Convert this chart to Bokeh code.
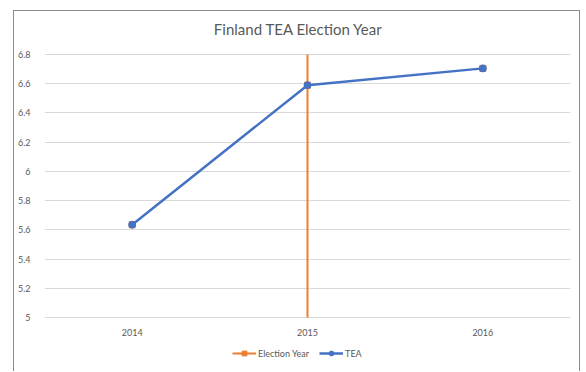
from bokeh.plotting import figure
from bokeh.models import FactorRange, Range1d, FixedTicker, Legend, LegendItem, ColumnDataSource
from bokeh.core.properties import value
from bokeh.embed import file_html
from bokeh.resources import INLINE

years = ["2014", "2015", "2016"]
tea = [5.635, 6.59, 6.705]
election_year = ["2015"]
election_low = [5.0]
election_high = [6.8]
y_ticks = [5.0, 5.2, 5.4, 5.6, 5.8, 6.0, 6.2, 6.4, 6.6, 6.8]
title_text = "Finland TEA Election Year"

FONT = "Lato"
GREY = "#595959"
BLUE = "#4472C4"
ORANGE = "#ED7D31"

# pixel geometry of the value axis (frame spans the full figure height)
PX_PER_UNIT = 263 / 1.8
y_lo = y_ticks[0] - 55 / PX_PER_UNIT
y_hi = y_ticks[-1] + 43 / PX_PER_UNIT

p = figure(width=567, height=361, x_range=FactorRange(*years, range_padding=0),
           y_range=Range1d(y_lo, y_hi), output_backend="svg", toolbar_location=None,
           min_border_left=30, min_border_right=11, min_border_top=0, min_border_bottom=0,
           margin=(10, 0, 0, 13),
           styles={"border-left": "1px solid #8c8c8c", "border-right": "1px solid #8c8c8c",
                   "border-top": "1px solid #8c8c8c"})
p.outline_line_color = None
p.xgrid.grid_line_color = None
p.ygrid.grid_line_color = "#d9d9d9"
p.ygrid.grid_line_width = 1
p.xaxis.visible = False

p.yaxis.ticker = FixedTicker(ticks=y_ticks)
p.yaxis.major_label_overrides = {5: "5", 6: "6"}
p.yaxis.major_label_text_font = FONT
p.yaxis.major_label_text_font_size = "9px"
p.yaxis.major_label_text_color = GREY
p.yaxis.major_tick_line_color = None
p.yaxis.minor_tick_line_color = None
p.yaxis.axis_line_color = None
p.yaxis.major_label_standoff = 8

# category labels under the baseline
p.text(x=years, y=[y_ticks[0]] * len(years), text=years, y_offset=15,
       text_font=value(FONT), text_font_size="9px", text_color=GREY,
       text_align="center", text_baseline="middle")

# title
p.text(x=[years[1]], y=[y_ticks[-1]], text=[title_text], x_offset=-9, y_offset=-26,
       text_font=value(FONT), text_font_size="15px", text_color=GREY,
       text_align="center", text_baseline="middle")

src = ColumnDataSource(dict(x=years, y=tea))
esrc = ColumnDataSource(dict(x=election_year, y0=election_low, y1=election_high))

seg = p.segment(x0="x", y0="y0", x1="x", y1="y1", source=esrc, line_color=ORANGE, line_width=2)
esq = p.scatter(x="x", y="y", source=src, marker="square", size=6, fill_color=ORANGE,
                line_color=ORANGE)
ln = p.line(x="x", y="y", source=src, line_color=BLUE, line_width=2.5)
dots = p.scatter(x="x", y="y", source=src, marker="circle", size=7, fill_color=BLUE, line_color=BLUE)

legend = Legend(items=[LegendItem(label="Election Year", renderers=[seg, esq]),
                       LegendItem(label="TEA", renderers=[ln, dots])],
                orientation="horizontal", location=(188, 13),
                label_text_font=FONT, label_text_font_size="9px", label_text_color=GREY,
                glyph_width=24, glyph_height=12, label_height=12, label_standoff=2, spacing=10,
                padding=0, margin=0, border_line_color=None, background_fill_alpha=0)
p.add_layout(legend, "center")

open("out.html", "w").write(file_html(p, INLINE))
